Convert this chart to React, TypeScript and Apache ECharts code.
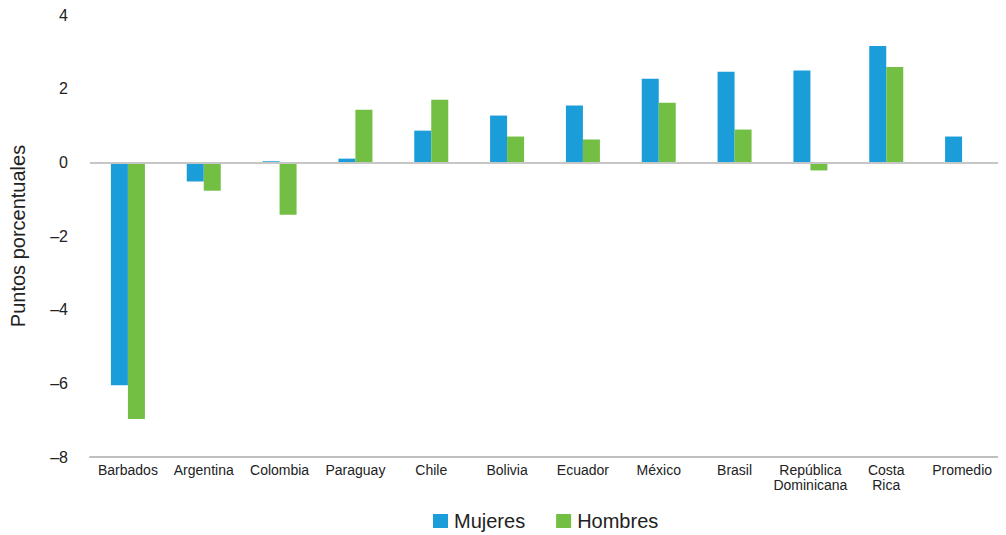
import React, { useEffect, useRef } from "react";
import * as echarts from "echarts";

const categories = [
  "Barbados",
  "Argentina",
  "Colombia",
  "Paraguay",
  "Chile",
  "Bolivia",
  "Ecuador",
  "México",
  "Brasil",
  "República\nDominicana",
  "Costa\nRica",
  "Promedio",
];
const mujeres = [-6.05, -0.52, 0.03, 0.1, 0.86, 1.27, 1.54, 2.27, 2.46, 2.49, 3.16, 0.7];
const hombres = [-6.97, -0.77, -1.42, 1.43, 1.7, 0.7, 0.62, 1.62, 0.89, -0.22, 2.59, -0.02];
const yTicks = { min: -8, max: 4, interval: 2 };

export default function App() {
  const ref = useRef<HTMLDivElement>(null);
  useEffect(() => {
    if (!ref.current) return;
    const chart = echarts.init(ref.current, undefined, { renderer: "svg" });
    const font = "Arial, 'Liberation Sans', Helvetica, sans-serif";
    chart.setOption({
      animation: false,
      textStyle: { fontFamily: font },
      grid: { left: 82, right: 6, top: 7, bottom: 78, outerBoundsMode: "none", containLabel: false },
      legend: {
        bottom: -1,
        left: 420,
        itemWidth: 15,
        itemHeight: 14,
        itemGap: 31,
        icon: "rect",
        textStyle: { fontSize: 20, color: "#222", fontFamily: font, padding: [0, 0, 0, 1] },
        data: ["Mujeres", "Hombres"],
      },
      xAxis: {
        type: "category",
        data: categories,
        axisLine: { onZero: false, lineStyle: { color: "#BFBFBF", width: 2 } },
        axisTick: { show: false },
        axisLabel: {
          interval: 0,
          color: "#222",
          fontSize: 14,
          lineHeight: 15,
          margin: 5,
          fontFamily: font,
        },
      },
      yAxis: {
        type: "value",
        min: yTicks.min,
        max: yTicks.max,
        interval: yTicks.interval,
        name: "Puntos porcentuales",
        nameLocation: "middle",
        nameGap: 62,
        nameRotate: 90,
        nameTextStyle: { fontSize: 20, color: "#222", fontFamily: font },
        axisLine: { show: false },
        axisTick: { show: false },
        splitLine: { show: false },
        axisLabel: {
          color: "#222",
          fontSize: 16,
          margin: 22,
          fontFamily: font,
          formatter: (v: number) => String(v).replace("-", "\u2013"),
        },
      },
      series: [
        {
          name: "Mujeres",
          type: "bar",
          data: mujeres,
          barWidth: 17,
          barGap: "0%",
          itemStyle: { color: "#1A9DD9" },
          markLine: {
            silent: true,
            symbol: "none",
            label: { show: false },
            lineStyle: { color: "#C6C6C6", width: 2, type: "solid" },
            data: [{ yAxis: 0 }],
          },
        },
        {
          name: "Hombres",
          type: "bar",
          data: hombres,
          barWidth: 17,
          barGap: "0%",
          itemStyle: { color: "#72BF44" },
        },
      ],
    });
    return () => chart.dispose();
  }, []);
  return <div ref={ref} style={{ width: 998, height: 527 }} />;
}
